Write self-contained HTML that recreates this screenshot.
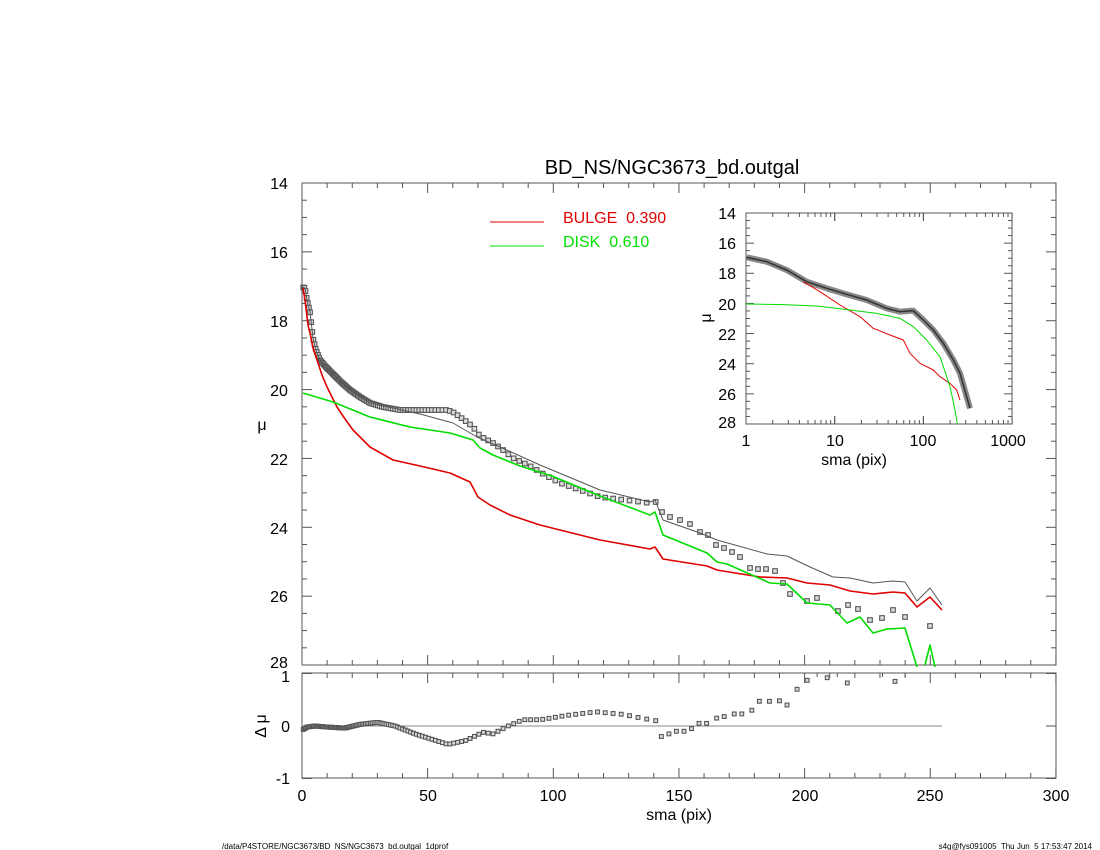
<!DOCTYPE html>
<html><head><meta charset="utf-8"><style>
body{margin:0;background:#fff;}
svg{display:block;font-family:"Liberation Sans",sans-serif;}
text{white-space:pre;}
</style></head><body>
<svg id="s" width="1100" height="850" xmlns="http://www.w3.org/2000/svg">
<rect width="1100" height="850" fill="#fff"/>
<text x="672" y="174" font-size="20" text-anchor="middle">BD_NS/NGC3673_bd.outgal</text>
<g id="ax" stroke="#555" fill="none" stroke-width="1"></g>
<g font-size="16" fill="#000">
<text x="279" y="189" text-anchor="middle">14</text>
<text x="279" y="258" text-anchor="middle">16</text>
<text x="279" y="327" text-anchor="middle">18</text>
<text x="279" y="396" text-anchor="middle">20</text>
<text x="279" y="465" text-anchor="middle">22</text>
<text x="279" y="534" text-anchor="middle">24</text>
<text x="279" y="602" text-anchor="middle">26</text>
<text x="279" y="668" text-anchor="middle">28</text>
<text x="262" y="430" text-anchor="middle">μ</text>
<text x="290" y="682" text-anchor="end">1</text>
<text x="290" y="732" text-anchor="end">0</text>
<text x="290" y="784" text-anchor="end">-1</text>
<text x="266" y="726" text-anchor="middle" transform="rotate(-90 266 726)">Δ μ</text>
<text x="302" y="801" text-anchor="middle">0</text>
<text x="428" y="801" text-anchor="middle">50</text>
<text x="553" y="801" text-anchor="middle">100</text>
<text x="679" y="801" text-anchor="middle">150</text>
<text x="805" y="801" text-anchor="middle">200</text>
<text x="930" y="801" text-anchor="middle">250</text>
<text x="1056" y="801" text-anchor="middle">300</text>
<text x="679" y="820" text-anchor="middle">sma (pix)</text>
<text x="736" y="219" text-anchor="end">14</text>
<text x="736" y="249" text-anchor="end">16</text>
<text x="736" y="279" text-anchor="end">18</text>
<text x="736" y="310" text-anchor="end">20</text>
<text x="736" y="340" text-anchor="end">22</text>
<text x="736" y="370" text-anchor="end">24</text>
<text x="736" y="400" text-anchor="end">26</text>
<text x="736" y="428" text-anchor="end">28</text>
<text x="711" y="318" text-anchor="middle" transform="rotate(-90 711 318)">μ</text>
<text x="746" y="446" text-anchor="middle">1</text>
<text x="835" y="446" text-anchor="middle">10</text>
<text x="923" y="446" text-anchor="middle">100</text>
<text x="1008" y="446" text-anchor="middle">1000</text>
<text x="854" y="465" text-anchor="middle">sma (pix)</text>
<text x="563" y="223" fill="#e00000">BULGE  0.390</text>
<text x="563" y="247" fill="#00e000">DISK  0.610</text>
</g>
<line x1="490" y1="222" x2="544" y2="222" stroke="#e00000"/>
<line x1="490" y1="246" x2="544" y2="246" stroke="#00e000"/>
<g font-size="8" fill="#000">
<text x="222" y="849">/data/P4STORE/NGC3673/BD_NS/NGC3673_bd.outgal_1dprof</text>
<text x="1092" y="849" text-anchor="end">s4g@fys091005  Thu Jun  5 17:53:47 2014</text>
</g>
<g id="data"></g>
</svg>
<script>
const NS="http://www.w3.org/2000/svg";
function el(p,t,a){const e=document.createElementNS(NS,t);for(const k in a)e.setAttribute(k,a[k]);p.appendChild(e);return e;}
const ax=document.getElementById('ax'),dg=document.getElementById('data');
function L(x1,y1,x2,y2){el(ax,'line',{x1,y1,x2,y2});}
el(ax,'rect',{x:302,y:183,width:754,height:482});
el(ax,'rect',{x:302,y:673,width:754,height:105});
const X=s=>302+s*2.513, Y=m=>183+(m-14)*34.43;
for(let s=0;s<=300;s+=10){const M=s%50==0,l=M?10:5;L(X(s),665,X(s),665-l);L(X(s),183,X(s),183+l);L(X(s),778,X(s),778-l);L(X(s),673,X(s),673+l);}
for(let m=14;m<=28;m+=0.5){const M=m%2==0,l=M?10:5;L(302,Y(m),302+l,Y(m));L(1056,Y(m),1056-l,Y(m));}
for(let d=-1;d<=1;d+=1){const y=726-d*52.5;L(302,y,312,y);L(1056,y,1046,y);}
el(ax,'rect',{x:746,y:213,width:266,height:211});
const IX=v=>746+Math.log10(v)*88.7, IY=m=>213+(m-14)*15.07;
for(let d=0;d<3;d++)for(let k=1;k<=10;k++){const x=IX(k*Math.pow(10,d)),l=k==1||k==10?8:4;L(x,424,x,424-l);L(x,213,x,213+l);}
for(let m=14;m<=28;m+=0.5){const l=m%2==0?8:4;L(746,IY(m),746+l,IY(m));L(1012,IY(m),1012-l,IY(m));}
el(dg,'line',{x1:302,y1:726,x2:942,y2:726,stroke:'#888'});
function path(pts,c,w){el(dg,'polyline',{points:pts.map(p=>p.join(',')).join(' '),fill:'none',stroke:c,'stroke-width':w,'stroke-linejoin':'round'});}
const obs=[[302,287],[305,288],[307,300],[310,312],[313,338],[316,350],[320,360],[326,367],[333,374],[341,382],[350,390],[360,397],[370,403],[383,407],[400,410],[420,410],[447,410],[453,412],[460,417],[467,422],[473,427],[480,436],[493,443],[503,450],[513,458],[530,466],[545,475],[560,483],[580,490],[600,497],[650,503],[655,502]];
const obsS=[[662,512],[670,517],[680,520],[690,524],[700,532],[708,535],[716,545],[724,548],[732,552],[740,557],[750,568],[758,569],[766,569],[775,571],[783,583],[790,594],[807,601],[817,598],[838,611],[848,605],[858,609],[870,620],[882,618],[893,610],[905,617],[930,626]];
const gray=[[302,287],[305,288],[307,300],[310,312],[313,338],[316,350],[320,360],[326,367],[333,374],[341,382],[350,390],[360,397],[370,403],[393,408],[420,414],[453,423],[465,430],[477,437],[500,447],[540,465],[600,490],[650,502],[655,500],[663,520],[700,533],[717,540],[767,554],[787,556],[810,567],[833,577],[850,578],[873,583],[893,581],[905,582],[917,601],[930,588],[942,605]];
const red=[[303,288],[305,300],[308,325],[310,333],[313,348],[317,360],[322,375],[327,387],[337,407],[345,419],[353,430],[370,447],[393,460],[420,466],[450,473],[470,482],[478,497],[490,505],[510,515],[540,525],[600,540],[650,549],[655,547],[663,559],[707,566],[717,570],[760,577],[787,578],[807,583],[830,585],[850,591],[873,594],[893,592],[905,593],[917,607],[930,597],[942,610]];
const green=[[303,393],[333,402],[370,417],[410,427],[450,433],[473,440],[480,448],[493,455],[520,466],[552,476],[600,496],[650,515],[655,512],[663,535],[707,553],[717,562],[727,564],[770,583],[787,584],[807,603],[830,605],[847,623],[860,617],[873,633],[887,629],[905,628],[917,667]];
const green2=[[925,665],[930,645],[935,667]];
function interp(a,x){for(let i=1;i<a.length;i++)if(x<=a[i][0]){const t=(x-a[i-1][0])/(a[i][0]-a[i-1][0]);return a[i-1][1]+t*(a[i][1]-a[i-1][1]);}return a[a.length-1][1];}
const rd=[[0,-0.08],[2,-0.02],[5,0],[10,-0.02],[17,-0.04],[23,0.03],[30,0.07],[37,0],[45,-0.15],[58,-0.35],[65,-0.28],[72,-0.12],[76,-0.15],[82,0],[88,0.12],[95,0.12],[105,0.2],[117,0.27],[128,0.22],[135,0.15],[141,0.1]];
function sq(x,y,g,r){r=r||2.3;el(g,'rect',{x:x-r,y:y-r,width:2*r,height:2*r,fill:'#ddd',stroke:'#555','stroke-width':1.1});}
let s=0.5;const mk=el(dg,'g',{});
while(s<141){const x=X(s);sq(x,interp(obs,x),mk);sq(x,726-52.5*interp(rd,s),mk,1.9);s+=Math.max(0.45,0.026*s);}
obsS.forEach(p=>sq(p[0],p[1],mk));
[[143,-0.2],[146,-0.15],[149,-0.1],[152,-0.1],[155,-0.05],[158,0.05],[161,0.05],[165,0.15],[168,0.18],[172,0.23],[175,0.23],[179,0.3],[182,0.47],[186,0.47],[190,0.48],[193,0.4],[197,0.7],[201,0.87],[205,1.0],[209,0.92],[213,1.0],[217,0.82],[231,1.0],[236,0.85],[240,1.0]].forEach(p=>{const y=726-52.5*p[1];if(p[1]<0.99)sq(X(p[0]),y,mk,1.9);else el(mk,'line',{x1:X(p[0]),y1:673,x2:X(p[0]),y2:677,stroke:'#555'});});
path(gray,'#555',1);path(red,'#e00000',1.6);path(green,'#00dd00',1.6);path(green2,'#00dd00',1.6);
function ip(a){return a.map(p=>[700+p[0]/3,200+p[1]/3]);}
const iobs=ip([[140,172],[200,185],[260,210],[320,245],[380,265],[440,283],[500,300],[560,325],[600,335],[640,332],[670,360],[700,390],[730,430],[760,480],[780,520],[800,590],[810,625]]);
path(iobs,'#888',6);path(iobs,'#333',1.5);
path(ip([[310,245],[360,275],[420,315],[480,350],[520,385],[570,405],[610,420],[630,460],[660,490],[700,510],[720,530],[750,550],[770,570],[780,600]]),'#e00000',1);
path(ip([[137,312],[250,314],[350,318],[450,330],[530,340],[600,355],[640,380],[680,420],[720,470],[750,560],[765,630],[772,672]]),'#00dd00',1);
</script>
</body></html>
